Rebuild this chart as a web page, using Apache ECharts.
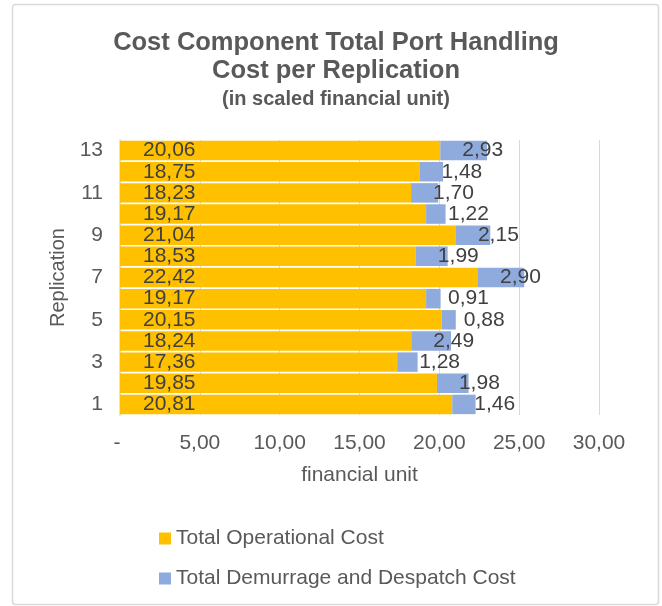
<!DOCTYPE html>
<html>
<head>
<meta charset="utf-8">
<script src="https://cdn.jsdelivr.net/npm/echarts@6/dist/echarts.min.js"></script>
<style>
html,body{margin:0;padding:0;background:#fff;}
#chart{width:662px;height:606px;}
</style>
</head>
<body>
<div id="chart"></div>
<script>
const categories = ['1','2','3','4','5','6','7','8','9','10','11','12','13'];
const operational = [20.81, 19.85, 17.36, 18.24, 20.15, 19.17, 22.42, 18.53, 21.04, 19.17, 18.23, 18.75, 20.06];
const demurrage = [1.46, 1.98, 1.28, 2.49, 0.88, 0.91, 2.90, 1.99, 2.15, 1.22, 1.70, 1.48, 2.93];
const seriesNames = ['Total Operational Cost', 'Total Demurrage and Despatch Cost'];
const xMin = 0, xMax = 30, xStep = 5;

const FONT = '"Liberation Sans", Arial, sans-serif';
const fmt = v => v.toFixed(2).replace('.', ',');

const chart = echarts.init(document.getElementById('chart'), null, {renderer: 'canvas'});
chart.setOption({
  animation: false,
  backgroundColor: '#fff',
  textStyle: {fontFamily: FONT},
  graphic: [{
    type: 'rect', silent: true,
    shape: {x: 12.5, y: 4.5, width: 646, height: 600, r: 3},
    style: {fill: 'none', stroke: '#d9d9d9', lineWidth: 1.5}
  }],
  title: {
    text: 'Cost Component Total Port Handling\nCost per Replication',
    subtext: '(in scaled financial unit)',
    left: 336, textAlign: 'center', top: 29, itemGap: 2, padding: 0,
    textStyle: {fontFamily: FONT, fontSize: 25.5, fontWeight: 'bold', color: '#595959', lineHeight: 28},
    subtextStyle: {fontFamily: FONT, fontSize: 20, fontWeight: 'bold', color: '#595959', lineHeight: 24}
  },
  legend: {
    orient: 'vertical', left: 159, top: 528, padding: 0,
    itemWidth: 12, itemHeight: 12, itemGap: 19, icon: 'rect',
    textStyle: {fontFamily: FONT, fontSize: 21, color: '#595959', lineHeight: 21},
    data: seriesNames
  },
  grid: {left: 120, width: 479, top: 140, height: 275, containLabel: false},
  xAxis: {
    type: 'value', min: xMin, max: xMax, interval: xStep,
    name: 'financial unit', nameLocation: 'middle', nameGap: 50,
    nameTextStyle: {fontFamily: FONT, fontSize: 21, color: '#595959'},
    axisLine: {show: false}, axisTick: {show: false},
    axisLabel: {fontFamily: FONT, fontSize: 21, color: '#595959', margin: 18,
      formatter: v => v === 0 ? '- ' : fmt(v)},
    splitLine: {show: true, lineStyle: {color: '#d9d9d9', width: 1}}
  },
  yAxis: {
    type: 'category', data: categories,
    name: 'Replication', nameLocation: 'middle', nameGap: 43, nameRotate: 90,
    nameTextStyle: {fontFamily: FONT, fontSize: 20, color: '#595959'},
    axisLine: {show: true, lineStyle: {color: '#d9d9d9', width: 1.5}},
    axisTick: {show: false},
    axisLabel: {fontFamily: FONT, fontSize: 21, color: '#595959', margin: 17, interval: 1}
  },
  series: [
    {
      name: seriesNames[0], type: 'bar', stack: 'total', data: operational,
      barCategoryGap: '8%',
      itemStyle: {color: '#FFC000'},
      label: {show: true, position: 'insideLeft', distance: 23,
        fontFamily: FONT, fontSize: 21, color: '#404040',
        formatter: p => fmt(p.value)}
    },
    {
      name: seriesNames[1], type: 'bar', stack: 'total', data: demurrage,
      barCategoryGap: '8%',
      itemStyle: {color: '#8FAADC'},
      label: {show: true, position: 'insideLeft', distance: 22,
        fontFamily: FONT, fontSize: 21, color: '#404040',
        formatter: p => fmt(p.value)}
    }
  ]
});
</script>
</body>
</html>
